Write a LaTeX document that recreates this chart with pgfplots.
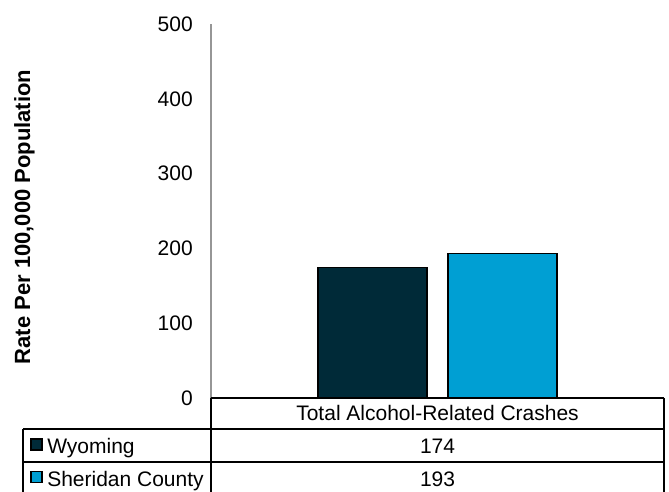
\documentclass[border=0pt]{standalone}
\usepackage{pgfplots}
\pgfplotsset{compat=1.18}
\usepackage{fontspec}
\setmainfont{Liberation Sans}
\definecolor{wyblue}{RGB}{0,42,56}
\definecolor{shblue}{RGB}{0,159,211}
\definecolor{axgray}{RGB}{150,150,150}
\newcommand{\tabfont}{\fontsize{15.75}{18}\selectfont}

\begin{document}
\begin{tikzpicture}
\useasboundingbox (-158.25pt,-70.5pt) rectangle (343.5pt,298.5pt);
\begin{axis}[
    scale only axis,
    width=339.75pt,
    height=280.5pt,
    xmin=-0.5, xmax=0.5,
    ymin=0, ymax=500,
    ytick={0,100,200,300,400,500},
    xtick=\empty,
    major tick length=0pt,
    axis x line=none,
    axis y line=left,
    y axis line style={draw=axgray, line width=1pt, -},
    /pgf/number format/assume math mode=true,
    tick label style={font=\tabfont},
    yticklabel style={anchor=east, inner sep=0pt, xshift=-13.5pt},
    ylabel={\fontsize{16.5}{19}\selectfont\bfseries Rate Per 100,000 Population},
    every axis y label/.style={at={(axis description cs:-0.412,0.484)}, rotate=90, anchor=center},
    clip=false,
]
\addplot[ybar, fill=wyblue, draw=black, line width=0.9pt, bar width=81.75pt, bar shift=-48.75pt]
    coordinates {(0,174)};
\addplot[ybar, fill=shblue, draw=black, line width=0.9pt, bar width=81.75pt, bar shift=48.75pt]
    coordinates {(0,193)};
\end{axis}
% data table below the plot
\begin{scope}[line width=1.1pt]
\draw (0,0) -- (339.75pt,0);
\draw (-141pt,-23.25pt) -- (339.75pt,-23.25pt);
\draw (-141pt,-48pt) -- (339.75pt,-48pt);
\draw (-141pt,-23.25pt) -- (-141pt,-72pt);
\draw (0,0) -- (0,-72pt);
\draw (339.75pt,0) -- (339.75pt,-72pt);
\end{scope}
\node[anchor=base, inner sep=0pt, font=\tabfont] at (169.9pt,-16.9pt) {Total Alcohol-Related Crashes};
\node[anchor=base, inner sep=0pt, font=\tabfont] at (169.9pt,-42pt) {174};
\node[anchor=base, inner sep=0pt, font=\tabfont] at (169.9pt,-66.7pt) {193};
\draw[fill=wyblue, line width=0.8pt] (-135pt,-39pt) rectangle ++(8.25pt,8.25pt);
\draw[fill=shblue, line width=0.8pt] (-135pt,-63.7pt) rectangle ++(8.25pt,8.25pt);
\node[anchor=base west, inner sep=0pt, font=\tabfont] at (-123pt,-42pt) {Wyoming};
\node[anchor=base west, inner sep=0pt, font=\tabfont] at (-123pt,-66.7pt) {Sheridan County};
\end{tikzpicture}
\end{document}
